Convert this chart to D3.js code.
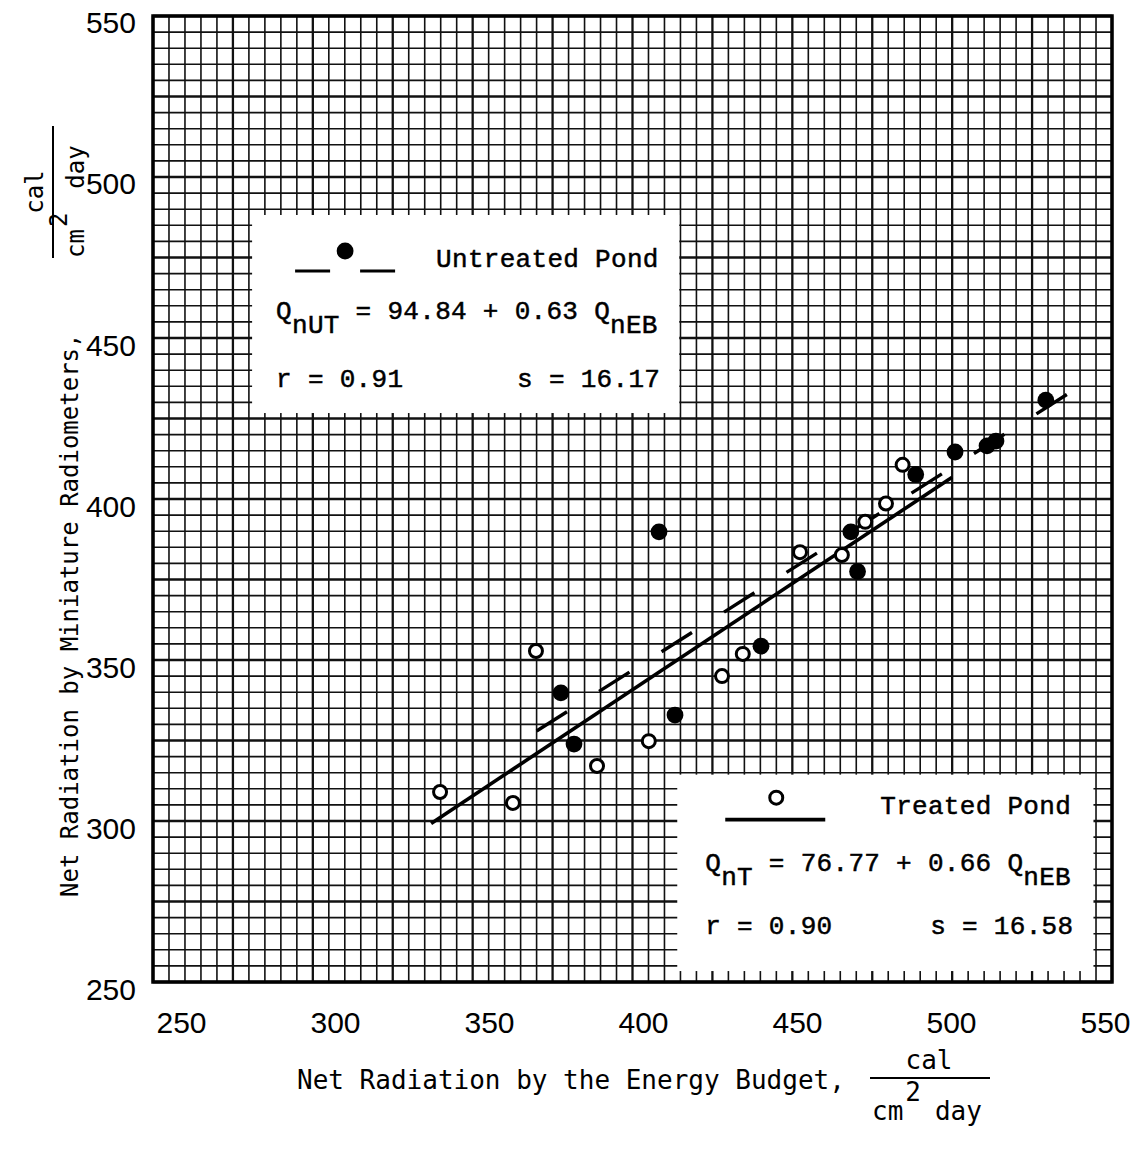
<!DOCTYPE html>
<html><head><meta charset="utf-8">
<script src="https://cdn.jsdelivr.net/npm/d3@7"></script>
<style>body{margin:0;background:#fff}svg{display:block}</style>
</head><body>
<svg id="c" width="1137" height="1155"></svg>
<script>
// ---------- data ----------
const xDomain = [250, 550];
const yDomain = [250, 550];
const tickValues = [250, 300, 350, 400, 450, 500, 550];

// Untreated pond (filled circles)
const untreatedX = [377.6, 381.7, 408.3, 413.3, 440.2, 468.3, 470.4, 488.6, 500.9, 510.9, 513.7, 529.3];
const untreatedY = [339.8, 323.9, 389.8, 332.9, 354.3, 389.8, 377.5, 407.6, 414.6, 416.5, 418.0, 430.7];
// Treated pond (open circles)
const treatedX = [339.8, 362.6, 369.8, 388.9, 405.1, 428.0, 434.5, 452.4, 465.5, 472.8, 479.3, 484.5];
const treatedY = [309.0, 305.6, 352.8, 317.1, 324.8, 345.0, 351.9, 383.5, 382.6, 392.9, 398.6, 410.6];

// regression lines: [intercept, slope] and x extent
const untreatedFit = [94.84, 0.63];
const untreatedFitRange = [370, 540];
const treatedFit = [76.77, 0.66];
const treatedFitRange = [337, 500];

// legend box extents in data units [x0, x1, y0, y1]
const untreatedBox = [281, 414.6, 426.7, 488.2];
const treatedBox = [414.0, 544.2, 253.4, 314.4];

// ---------- drawing ----------
const svg = d3.select('#c');
const x = d3.scaleLinear().domain(xDomain).range([153, 1112]);
const y = d3.scaleLinear().domain(yDomain).range([982, 16]);
// typed tick labels sit slightly off the printed grid
const xLab = d3.scaleLinear().domain(xDomain).range([181, 1105]);
const yLab = d3.scaleLinear().domain(yDomain).range([989, 22]);

svg.append('rect').attr('width', 1137).attr('height', 1155).attr('fill', '#fff');

const gridVals = d3.range(xDomain[0], xDomain[1] + 0.1, 5);
const g = svg.append('g');
g.selectAll('line.v').data(gridVals).join('line')
  .attr('x1', d => x(d)).attr('x2', d => x(d))
  .attr('y1', y(yDomain[0])).attr('y2', y(yDomain[1]))
  .attr('stroke', '#111').attr('stroke-width', d => d % 25 === 0 ? 2.3 : 1.6);
g.selectAll('line.h').data(d3.range(yDomain[0], yDomain[1] + 0.1, 5)).join('line')
  .attr('y1', d => y(d)).attr('y2', d => y(d))
  .attr('x1', x(xDomain[0])).attr('x2', x(xDomain[1]))
  .attr('stroke', '#111').attr('stroke-width', d => d % 25 === 0 ? 2.3 : 1.6);

// frame
svg.append('rect').attr('x', x(250)).attr('y', y(550))
  .attr('width', x(550) - x(250)).attr('height', y(250) - y(550))
  .attr('fill', 'none').attr('stroke', '#000').attr('stroke-width', 3.5);

// tick labels via axis generators (no tick marks)
const axX = d3.axisBottom(xLab).tickValues(tickValues).tickSize(0).tickPadding(0);
const gx = svg.append('g').attr('transform', 'translate(0,1012)').call(axX);
gx.select('.domain').remove();
gx.selectAll('text').attr('font-family', 'Liberation Sans, Arial, sans-serif')
  .attr('font-size', 30).attr('fill', '#000').attr('dy', '0.71em');
const axY = d3.axisLeft(yLab).tickValues(tickValues).tickSize(0).tickPadding(0);
const gy = svg.append('g').attr('transform', 'translate(136,0)').call(axY);
gy.select('.domain').remove();
gy.selectAll('text').attr('font-family', 'Liberation Sans, Arial, sans-serif')
  .attr('font-size', 30).attr('fill', '#000').attr('dy', '0.36em');

// legend boxes (white patches over the grid)
[untreatedBox, treatedBox].forEach(b => {
  svg.append('rect').attr('x', x(b[0])).attr('y', y(b[3]))
    .attr('width', x(b[1]) - x(b[0])).attr('height', y(b[2]) - y(b[3]))
    .attr('fill', '#fff');
});

// regression lines
function fitLine(fit, range) {
  return d3.line().x(d => x(d)).y(d => y(fit[0] + fit[1] * d))(range);
}
svg.append('path').attr('d', fitLine(treatedFit, treatedFitRange))
  .attr('stroke', '#000').attr('stroke-width', 3.6).attr('fill', 'none');
svg.append('path').attr('d', fitLine(untreatedFit, untreatedFitRange))
  .attr('stroke', '#000').attr('stroke-width', 3.4).attr('fill', 'none')
  .attr('stroke-dasharray', '36 38');

// points
svg.append('g').selectAll('circle').data(d3.zip(treatedX, treatedY)).join('circle')
  .attr('cx', d => x(d[0])).attr('cy', d => y(d[1])).attr('r', 6.5)
  .attr('fill', '#fff').attr('stroke', '#000').attr('stroke-width', 3);
svg.append('g').selectAll('circle').data(d3.zip(untreatedX, untreatedY)).join('circle')
  .attr('cx', d => x(d[0])).attr('cy', d => y(d[1])).attr('r', 8.4)
  .attr('fill', '#000');

// ---------- legend contents ----------
const mono = 'Liberation Mono, Courier New, monospace';
function tt(xp, yp, str) {
  return svg.append('text').attr('x', xp).attr('y', yp).attr('font-family', mono)
    .attr('font-size', 26).attr('letter-spacing', 0.3).attr('fill', '#000')
    .attr('stroke', '#000').attr('stroke-width', 0.5).text(str);
}
function eq(xp, yp, sub, rest) {
  const t = svg.append('text').attr('x', xp).attr('y', yp).attr('font-family', mono)
    .attr('font-size', 26).attr('letter-spacing', 0.3).attr('fill', '#000')
    .attr('stroke', '#000').attr('stroke-width', 0.5)
    .attr('xml:space', 'preserve').style('white-space', 'pre');
  t.append('tspan').text('Q');
  t.append('tspan').attr('dy', 14).text(sub);
  t.append('tspan').attr('dy', -14).text(rest);
  t.append('tspan').attr('dy', 14).text('nEB');
}
// Untreated legend
const ub = { x: x(untreatedBox[0]), y: y(untreatedBox[3]) };
svg.append('line').attr('x1', ub.x + 43).attr('x2', ub.x + 78).attr('y1', ub.y + 56).attr('y2', ub.y + 56)
  .attr('stroke', '#000').attr('stroke-width', 3.2);
svg.append('line').attr('x1', ub.x + 108).attr('x2', ub.x + 143).attr('y1', ub.y + 56).attr('y2', ub.y + 56)
  .attr('stroke', '#000').attr('stroke-width', 3.2);
svg.append('circle').attr('cx', ub.x + 93).attr('cy', ub.y + 36).attr('r', 8.4).attr('fill', '#000');
tt(ub.x + 184, ub.y + 52, 'Untreated Pond');
eq(ub.x + 24, ub.y + 104, 'nUT', ' = 94.84 + 0.63 Q');
tt(ub.x + 24, ub.y + 172, 'r = 0.91');
tt(ub.x + 265, ub.y + 172, 's = 16.17');

// Treated legend
const tb = { x: x(treatedBox[0]), y: y(treatedBox[3]) };
svg.append('line').attr('x1', tb.x + 48).attr('x2', tb.x + 148).attr('y1', tb.y + 45).attr('y2', tb.y + 45)
  .attr('stroke', '#000').attr('stroke-width', 3.6);
svg.append('circle').attr('cx', tb.x + 99).attr('cy', tb.y + 23).attr('r', 6.5)
  .attr('fill', '#fff').attr('stroke', '#000').attr('stroke-width', 3);
tt(tb.x + 203, tb.y + 39, 'Treated Pond');
eq(tb.x + 28, tb.y + 96, 'nT', ' = 76.77 + 0.66 Q');
tt(tb.x + 28, tb.y + 159, 'r = 0.90');
tt(tb.x + 253, tb.y + 159, 's = 16.58');

// ---------- axis titles ----------
const sansMono = 'DejaVu Sans Mono, monospace';
// x title
svg.append('text').attr('x', 297).attr('y', 1089).attr('font-family', sansMono)
  .attr('font-size', 26).attr('fill', '#000').text('Net Radiation by the Energy Budget,');
svg.append('text').attr('x', 929).attr('y', 1069).attr('text-anchor', 'middle').attr('font-family', sansMono)
  .attr('font-size', 26).attr('fill', '#000').text('cal');
svg.append('line').attr('x1', 870).attr('x2', 990).attr('y1', 1078).attr('y2', 1078)
  .attr('stroke', '#000').attr('stroke-width', 2);
const xd = svg.append('text').attr('x', 872).attr('y', 1120).attr('font-family', sansMono)
  .attr('font-size', 26).attr('fill', '#000');
xd.append('tspan').text('cm');
xd.append('tspan').attr('dy', -19).attr('dx', 2).text('2');
xd.append('tspan').attr('dy', 19).attr('dx', 14).text('day');

// y title (rotated)
const yt = svg.append('g').attr('transform', 'translate(78,897) rotate(-90)');
yt.append('text').attr('x', 0).attr('y', 0).attr('font-family', sansMono)
  .attr('font-size', 24).attr('fill', '#000').text('Net Radiation by Miniature Radiometers,');
const yfr = svg.append('g').attr('transform', 'translate(53,192) rotate(-90)');
yfr.append('text').attr('x', 0).attr('y', -10).attr('text-anchor', 'middle').attr('font-family', sansMono)
  .attr('font-size', 24).attr('fill', '#000').text('cal');
yfr.append('line').attr('x1', -66).attr('x2', 66).attr('y1', 0).attr('y2', 0)
  .attr('stroke', '#000').attr('stroke-width', 2);
const yd = yfr.append('text').attr('x', -66).attr('y', 31).attr('font-family', sansMono)
  .attr('font-size', 24).attr('fill', '#000');
yd.append('tspan').text('cm');
yd.append('tspan').attr('dy', -17).attr('dx', 2).text('2');
yd.append('tspan').attr('dy', 17).attr('dx', 24).text('day');
</script>
</body></html>
